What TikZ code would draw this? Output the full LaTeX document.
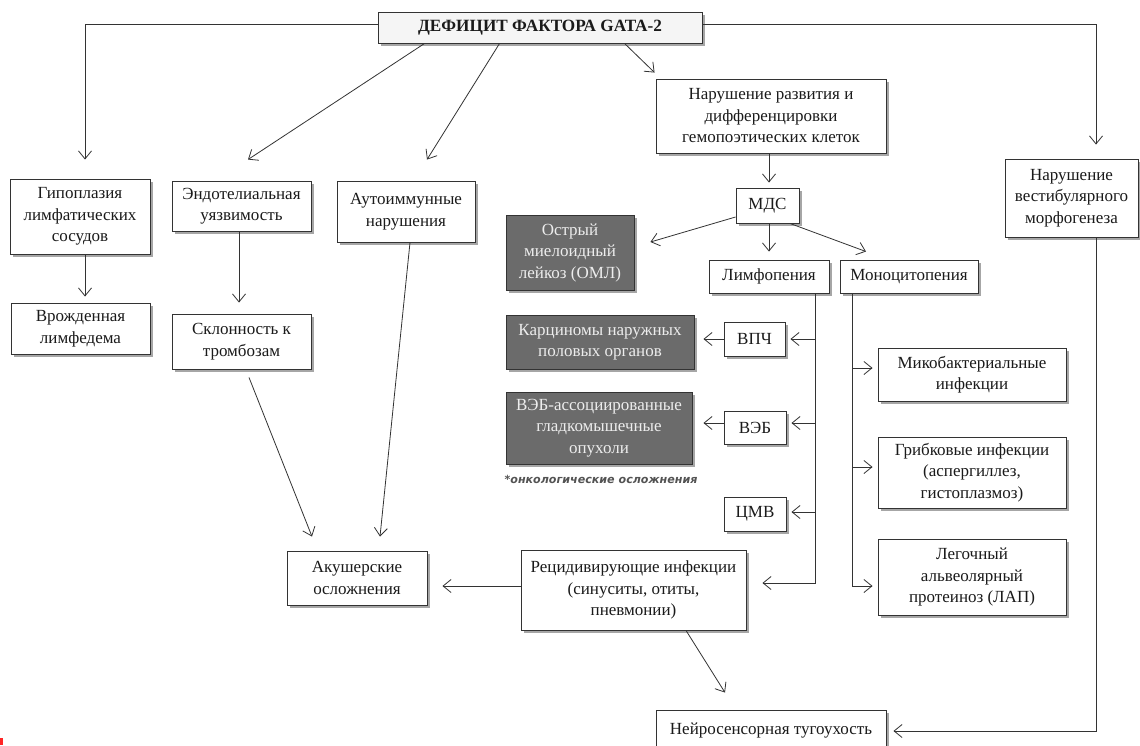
\documentclass[tikz,border=0pt]{standalone}
\usepackage{fontspec}
\setmainfont{Liberation Serif}
\newfontfamily\capfont{DejaVu Sans}
\usetikzlibrary{arrows.meta,shadows,calc}
\definecolor{lncol}{HTML}{333333}
\definecolor{darkfill}{HTML}{6B6B6B}
\definecolor{txtcol}{HTML}{1A1A1A}
\begin{document}
\begin{tikzpicture}[x=1pt,y=-1pt,
  box/.style={draw=lncol, line width=0.9pt, fill=white, align=center, inner sep=0pt,
    font=\fontsize{17}{21.5}\selectfont, text=txtcol,
    drop shadow={shadow xshift=2.5pt, shadow yshift=-2.5pt, opacity=0.35, fill=black}},
  dbox/.style={box, fill=darkfill, text=white!93!black},
  conn/.style={draw=lncol, line width=0.8pt},
  arr/.style={conn, -{Straight Barb[length=8pt,width=13pt,line width=0.8pt]}}]
\fill[white] (0,0) rectangle (1140,745);
\path[use as bounding box] (0,0) rectangle (1140,745);
\clip (0,0) rectangle (1140,745);

% nodes
\node[box, fill=gray!8, minimum width=324pt, minimum height=31pt,
  font=\fontsize{17.2}{18}\bfseries\selectfont] (title) at (540,27.5) {ДЕФИЦИТ ФАКТОРА GATA-2};
\node[box, minimum width=140pt, minimum height=75pt] (gip) at (80,216.5) {Гипоплазия\\лимфатических\\сосудов};
\node[box, minimum width=139pt, minimum height=51pt] (vrozh) at (80.5,328.5) {Врожденная\\лимфедема};
\node[box, minimum width=139pt, minimum height=50pt] (endo) at (241.5,206) {Эндотелиальная\\уязвимость};
\node[box, minimum width=139pt, minimum height=55pt] (sklon) at (241.5,341.5) {Склонность к\\тромбозам};
\node[box, minimum width=138pt, minimum height=61pt] (auto) at (406,211.5) {Аутоиммунные\\нарушения};
\node[box, minimum width=140pt, minimum height=54pt] (akush) at (357,578) {Акушерские\\осложнения};
\node[box, minimum width=230pt, minimum height=74pt] (narraz) at (771,116) {Нарушение развития и\\дифференцировки\\гемопоэтических клеток};
\node[box, minimum width=63pt, minimum height=35pt] (mds) at (767.5,205.5) {МДС};
\node[dbox, minimum width=128pt, minimum height=75pt] (oml) at (570,252.5) {Острый\\миелоидный\\лейкоз (ОМЛ)};
\node[box, minimum width=120pt, minimum height=33pt] (limfo) at (769,276.5) {Лимфопения};
\node[box, minimum width=138pt, minimum height=33pt] (mono) at (909,276.5) {Моноцитопения};
\node[dbox, minimum width=188pt, minimum height=54pt] (karc) at (600,342) {Карциномы наружных\\половых органов};
\node[box, minimum width=61pt, minimum height=34pt] (vpch) at (754.5,339) {ВПЧ};
\node[dbox, minimum width=186pt, minimum height=72pt] (vebass) at (599,428) {ВЭБ-ассоциированные\\гладкомышечные\\опухоли};
\node[box, minimum width=62pt, minimum height=33pt] (veb) at (755,427.5) {ВЭБ};
\node[box, minimum width=62pt, minimum height=34pt] (cmv) at (755,514) {ЦМВ};
\node[box, minimum width=188pt, minimum height=53pt] (mik) at (972,374.5) {Микобактериальные\\инфекции};
\node[box, minimum width=188pt, minimum height=71pt] (grib) at (972,472.5) {Грибковые инфекции\\(аспергиллез,\\гистоплазмоз)};
\node[box, minimum width=188pt, minimum height=76pt] (leg) at (972,577) {Легочный\\альвеолярный\\протеиноз (ЛАП)};
\node[box, minimum width=133pt, minimum height=78pt] (vest) at (1071.5,198) {Нарушение\\вестибулярного\\морфогенеза};
\node[box, minimum width=225pt, minimum height=80pt] (recid) at (633.5,590) {Рецидивирующие инфекции\\(синуситы, отиты,\\пневмонии)};
\node[box, minimum width=230pt, minimum height=40pt, text depth=0pt] (neiro) at (771,730) {\raisebox{3pt}{Нейросенсорная тугоухость}};
\node[font=\capfont\bfseries\itshape\fontsize{11.1}{12}\selectfont, text=gray!65!black, inner sep=0pt] (cap) at (601,479) {*онкологические осложнения};

% helper coordinates
\coordinate (lv) at ([xshift=46pt]limfo.south);
\coordinate (mv) at ([xshift=-57pt]mono.south);
\coordinate (vebE) at ([yshift=4.5pt]veb.east);
\coordinate (vebW) at ([yshift=4.5pt]veb.west);
\coordinate (cmvE) at ([yshift=2pt]cmv.east);
\coordinate (mikW) at ([yshift=6.5pt]mik.west);
\coordinate (gribW) at ([yshift=5.5pt]grib.west);
\coordinate (legW) at ([yshift=-9pt]leg.west);
\coordinate (recE) at ([yshift=7pt]recid.east);
\coordinate (recW) at ([yshift=4pt]recid.west);

% connectors from title
\draw[arr, shorten >=19pt] ([yshift=3pt]title.west) -| ([xshift=5pt]gip.north);
\draw[arr, shorten >=14pt] ([yshift=3pt]title.east) -| ([xshift=24.5pt]vest.north);
\draw[arr] ([xshift=47pt]title.south west) -- ([xshift=6.5pt,yshift=21pt]endo.north);
\draw[arr] ([xshift=122pt]title.south west) -- ([xshift=21pt,yshift=21pt]auto.north);
\draw[arr] ([xshift=247pt]title.south west) -- ([xshift=-1pt,yshift=6pt]narraz.north west);

% left column
\draw[arr, shorten >=6pt] ([xshift=5pt]gip.south) -- ([xshift=4.5pt]vrozh.north);
\draw[arr, shorten >=11pt] ([xshift=-2.5pt]endo.south) -- ([xshift=-2.5pt]sklon.north);
\draw[arr] ([xshift=7.5pt,yshift=-8pt]sklon.south) -- ([xshift=-45pt,yshift=14pt]akush.north);
\draw[arr] ([xshift=4pt]auto.south) -- ([xshift=23pt,yshift=14pt]akush.north);

% haematopoietic branch
\draw[arr, shorten >=5pt] ([xshift=-2pt]narraz.south) -- ([xshift=1.5pt]mds.north);
\draw[arr] ([yshift=-11.5pt]mds.west) -- ([xshift=16pt,yshift=10.5pt]oml.east);
\draw[arr, shorten >=8pt] ([xshift=1.5pt]mds.south) -- (limfo.north);
\draw[arr] ([xshift=22.5pt]mds.south) -- ([xshift=-43pt,yshift=8pt]mono.north);

% lymphopenia trunk
\draw[arr, shorten >=16pt] (lv) |- (recE);
\draw[arr, shorten >=5pt] (lv |- vpch.east) -- (vpch.east);
\draw[arr, shorten >=5pt] (lv |- vebE) -- (vebE);
\draw[arr, shorten >=5pt] (lv |- cmvE) -- (cmvE);
\draw[arr, shorten >=9pt] (vpch.west) -- (vpch.west -| karc.east);
\draw[arr, shorten >=11pt] (vebW) -- (vebW -| vebass.east);

% monocytopenia trunk
\draw[arr, shorten >=5pt] (mv) |- (legW);
\draw[arr, shorten >=5pt] (mv |- mikW) -- (mikW);
\draw[arr, shorten >=5pt] (mv |- gribW) -- (gribW);

% bottom
\draw[arr, shorten >=15pt] (recW) -- (recW -| akush.east);
\draw[arr] ([xshift=52.5pt]recid.south) -- ([xshift=-46pt,yshift=17pt]neiro.north);
\draw[arr, shorten >=7pt] ([xshift=24.5pt]vest.south) |- ([yshift=-1pt]neiro.east);

\fill[red!85] (0,738) rectangle (3,745);
\end{tikzpicture}
\end{document}
